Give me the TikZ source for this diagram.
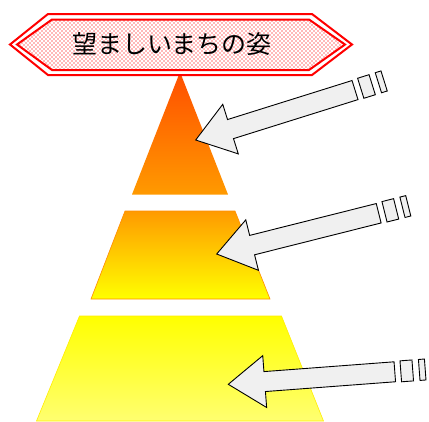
\documentclass[tikz,border=0pt]{standalone}
\usepackage{fontspec}
\newfontfamily\jpfont{Noto Sans CJK JP}
\usetikzlibrary{patterns}
\pgfdeclarepatternformonly{bannerdots}{\pgfqpoint{-1pt}{-1pt}}{\pgfqpoint{5pt}{5pt}}{\pgfqpoint{4pt}{4pt}}{%
  \pgfpathcircle{\pgfqpoint{0pt}{0pt}}{0.8pt}%
  \pgfpathcircle{\pgfqpoint{2pt}{2pt}}{0.8pt}%
  \pgfusepath{fill}}
\definecolor{redorange}{HTML}{FF4E00}
\definecolor{orangemid}{HTML}{FF9A00}
\definecolor{yellowmid}{HTML}{FFFF00}
\definecolor{paleyellow}{HTML}{FFFF70}
\definecolor{arrowfill}{HTML}{F0F0F0}
\tikzset{
  blockarrow/.style={draw=black, line width=0.9pt, fill=arrowfill, line join=miter},
  bannerline/.style={draw=red, line width=2pt, line join=miter},
  tier/.style={line width=0.6pt}
}
\newcommand{\myarrow}{%
  \draw[blockarrow] (0,0) -- (36.5,-26) -- (36.5,-10) -- (167,-10) -- (167,10) -- (36.5,10) -- (36.5,26) -- cycle;
  \draw[blockarrow] (173,-10.5) -- (185,-10.5) -- (185,10.5) -- (173,10.5) -- cycle;
  \draw[blockarrow] (191.5,-10.5) -- (197.5,-10.5) -- (197.5,10.5) -- (191.5,10.5) -- cycle;
}
\begin{document}
\begin{tikzpicture}[x=1pt,y=-1pt]
\useasboundingbox (0,0) rectangle (429,421);
\fill[white] (0,0) rectangle (429,421);
% pyramid tiers
\shade[top color=redorange, bottom color=orangemid] (180,72) -- (228,194.5) -- (132,194.5) -- cycle;
\shade[tier, top color=orangemid, bottom color=yellowmid, draw=orange!90!yellow] (125,211) -- (235,211) -- (270,299) -- (91,299) -- cycle;
\shade[top color=yellowmid, bottom color=paleyellow, draw=yellow!95!orange, tier] (79.5,316) -- (281.5,316) -- (323.5,421) -- (36.5,421) -- cycle;
% banner
\fill[white] (10,44.5) -- (48,14) -- (312,14) -- (352,44.5) -- (312,75) -- (48,75) -- cycle;
\fill[pattern=bannerdots, pattern color=red!55] (17,44.5) -- (52,19.5) -- (309,19.5) -- (345,44.5) -- (309,70) -- (52,70) -- cycle;
\draw[bannerline] (10,44.5) -- (48,14) -- (312,14) -- (352,44.5) -- (312,75) -- (48,75) -- cycle;
\draw[bannerline] (17,44.5) -- (52,19.5) -- (309,19.5) -- (345,44.5) -- (309,70) -- (52,70) -- cycle;
\node[font=\jpfont\fontsize{25}{25}\selectfont, inner sep=0pt] (title) at (172,44) {望ましいまちの姿};
% arrows
\coordinate (tipA) at (195.7,140);
\coordinate (tipB) at (216.7,254);
\coordinate (tipC) at (228.3,384.3);
\begin{scope}[shift={(tipA)}, x={(0.954pt,0.299pt)}, y={(0.299pt,-0.954pt)}]
\myarrow
\end{scope}
\begin{scope}[shift={(tipB)}, x={(0.970pt,0.244pt)}, y={(0.244pt,-0.970pt)}]
\myarrow
\end{scope}
\begin{scope}[shift={(tipC)}, x={(0.997pt,0.075pt)}, y={(0.075pt,-0.997pt)}]
\myarrow
\end{scope}
\end{tikzpicture}
\end{document}
